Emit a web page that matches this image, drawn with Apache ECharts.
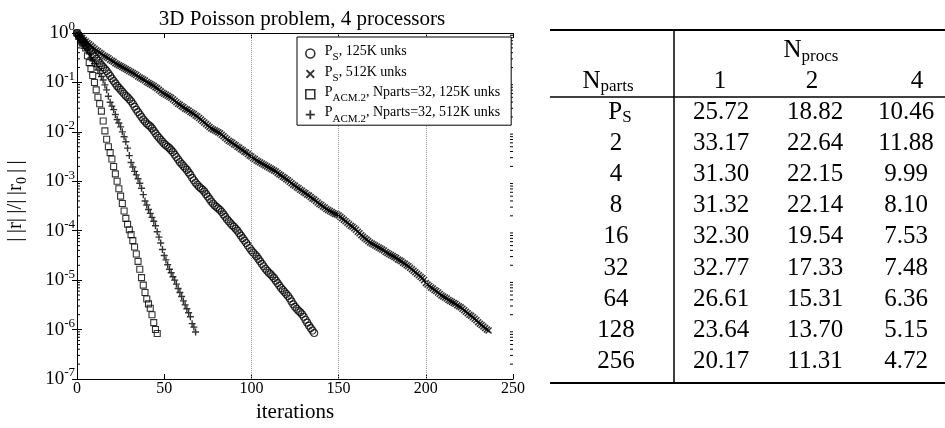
<!DOCTYPE html>
<html>
<head>
<meta charset="utf-8">
<title>3D Poisson problem, 4 processors</title>
<script src="https://cdn.jsdelivr.net/npm/echarts@6/dist/echarts.min.js"></script>
<style>
  html, body { margin: 0; padding: 0; background: #fff; }
  #chart { width: 945px; height: 428px; }
</style>
</head>
<body>
<div id="chart"></div>
<script>
const FONT = 'Liberation Serif';

// log10(||r||/||r0||) per iteration (index = iteration)
const psSmall = [
  0, -0.05, -0.10, -0.15, -0.19, -0.24, -0.29, -0.34, -0.38, -0.43,
  -0.47, -0.52, -0.56, -0.61, -0.65, -0.69, -0.73, -0.77, -0.82, -0.87,
  -0.92, -0.97, -1.02, -1.07, -1.11, -1.15, -1.19, -1.23, -1.27, -1.30,
  -1.34, -1.38, -1.43, -1.49, -1.55, -1.60, -1.65, -1.70, -1.75, -1.79,
  -1.83, -1.86, -1.89, -1.93, -1.98, -2.03, -2.08, -2.12, -2.16, -2.20,
  -2.24, -2.27, -2.30, -2.33, -2.37, -2.41, -2.46, -2.51, -2.56, -2.61,
  -2.65, -2.69, -2.73, -2.77, -2.82, -2.87, -2.93, -2.98, -3.03, -3.07,
  -3.11, -3.14, -3.17, -3.21, -3.26, -3.31, -3.36, -3.41, -3.45, -3.49,
  -3.52, -3.55, -3.58, -3.62, -3.67, -3.72, -3.77, -3.81, -3.85, -3.89,
  -3.92, -3.96, -4.00, -4.05, -4.10, -4.15, -4.20, -4.25, -4.30, -4.35,
  -4.40, -4.44, -4.48, -4.52, -4.57, -4.62, -4.67, -4.72, -4.77, -4.81,
  -4.85, -4.88, -4.92, -4.96, -5.01, -5.06, -5.11, -5.16, -5.20, -5.24,
  -5.28, -5.32, -5.37, -5.43, -5.49, -5.54, -5.58, -5.62, -5.65, -5.69,
  -5.74, -5.80, -5.86, -5.92, -5.97, -6.02, -6.07
];
const psLarge = [
  0, -0.04, -0.07, -0.10, -0.14, -0.17, -0.20, -0.23, -0.26, -0.29,
  -0.32, -0.35, -0.37, -0.40, -0.42, -0.45, -0.47, -0.49, -0.51, -0.54,
  -0.56, -0.58, -0.61, -0.63, -0.65, -0.67, -0.69, -0.71, -0.73, -0.75,
  -0.77, -0.79, -0.81, -0.83, -0.85, -0.88, -0.90, -0.92, -0.94, -0.96,
  -0.99, -1.01, -1.03, -1.05, -1.07, -1.10, -1.12, -1.15, -1.18, -1.21,
  -1.23, -1.25, -1.27, -1.29, -1.31, -1.34, -1.37, -1.40, -1.43, -1.45,
  -1.48, -1.50, -1.53, -1.55, -1.57, -1.60, -1.62, -1.64, -1.67, -1.69,
  -1.72, -1.75, -1.78, -1.81, -1.84, -1.87, -1.90, -1.93, -1.95, -1.97,
  -1.99, -2.01, -2.03, -2.06, -2.09, -2.12, -2.15, -2.18, -2.20, -2.22,
  -2.25, -2.27, -2.30, -2.32, -2.35, -2.37, -2.40, -2.42, -2.45, -2.48,
  -2.50, -2.53, -2.55, -2.58, -2.60, -2.62, -2.64, -2.66, -2.68, -2.70,
  -2.72, -2.74, -2.76, -2.78, -2.80, -2.83, -2.86, -2.88, -2.91, -2.93,
  -2.96, -2.98, -3.01, -3.04, -3.07, -3.09, -3.12, -3.14, -3.17, -3.19,
  -3.22, -3.24, -3.27, -3.29, -3.32, -3.35, -3.37, -3.40, -3.43, -3.46,
  -3.48, -3.51, -3.53, -3.56, -3.58, -3.60, -3.62, -3.64, -3.66, -3.67,
  -3.69, -3.72, -3.75, -3.78, -3.81, -3.84, -3.87, -3.90, -3.92, -3.95,
  -3.98, -4.02, -4.05, -4.09, -4.12, -4.15, -4.18, -4.21, -4.24, -4.26,
  -4.28, -4.30, -4.32, -4.34, -4.36, -4.38, -4.40, -4.43, -4.45, -4.47,
  -4.49, -4.51, -4.53, -4.55, -4.58, -4.60, -4.62, -4.65, -4.67, -4.70,
  -4.72, -4.75, -4.78, -4.81, -4.84, -4.87, -4.90, -4.93, -4.96, -5.00,
  -5.06, -5.09, -5.12, -5.15, -5.17, -5.20, -5.22, -5.25, -5.28, -5.31,
  -5.33, -5.35, -5.37, -5.40, -5.42, -5.44, -5.46, -5.48, -5.51, -5.53,
  -5.55, -5.58, -5.61, -5.64, -5.67, -5.70, -5.72, -5.75, -5.78, -5.81,
  -5.85, -5.88, -5.91, -5.94, -5.97, -6.00, -6.02
];
const acmSmall = [
  0, -0.07, -0.13, -0.20, -0.25, -0.30, -0.46, -0.60, -0.72, -0.86,
  -1.00, -1.15, -1.30, -1.43, -1.58, -1.78, -1.98, -2.15, -2.30, -2.42,
  -2.55, -2.70, -2.85, -3.00, -3.15, -3.30, -3.45, -3.60, -3.75, -3.87,
  -3.98, -4.08, -4.20, -4.33, -4.47, -4.62, -4.78, -4.95, -5.10, -5.25,
  -5.38, -5.48, -5.57, -5.70, -5.86, -6.00, -6.08
];
const acmLarge = [
  0, -0.06, -0.12, -0.17, -0.22, -0.28, -0.34, -0.42, -0.50, -0.56,
  -0.62, -0.68, -0.75, -0.82, -0.88, -0.95, -1.05, -1.15, -1.28, -1.40,
  -1.48, -1.55, -1.65, -1.75, -1.82, -1.90, -2.00, -2.10, -2.20, -2.33,
  -2.48, -2.62, -2.71, -2.80, -2.87, -2.95, -3.04, -3.14, -3.27, -3.40,
  -3.48, -3.57, -3.65, -3.73, -3.81, -3.90, -4.02, -4.13, -4.25, -4.38,
  -4.50, -4.59, -4.69, -4.78, -4.85, -4.93, -5.00, -5.08, -5.17, -5.25,
  -5.33, -5.42, -5.50, -5.58, -5.66, -5.74, -5.88, -5.95, -6.05
];

// dotted grid lines that show in the plot
const gridIters = [100, 150, 200];

// table on the right
const partLabels = ['P_S', '2', '4', '8', '16', '32', '64', '128', '256'];
const procLabels = ['1', '2', '4'];
const timeP1 = [25.72, 33.17, 31.30, 31.32, 32.30, 32.77, 26.61, 23.64, 20.17];
const timeP2 = [18.82, 22.64, 22.15, 22.14, 19.54, 17.33, 15.31, 13.70, 11.31];
const timeP4 = [10.46, 11.88, 9.99, 8.10, 7.53, 7.48, 6.36, 5.15, 4.72];

// minor ticks of the log axis (2..9 x 10^k)
const minorTicks = [];
for (let k = -7; k < 0; k++) {
  for (let m = 2; m <= 9; m++) minorTicks.push(m * Math.pow(10, k));
}

const toPoints = exps => exps.map((e, i) => [i, Math.pow(10, e)]);

const PLUS = 'path://M4,0H6V4H10V6H6V10H4V6H0V4H4Z';
const CROSS = 'path://M1.5,0L5,3.5L8.5,0L10,1.5L6.5,5L10,8.5L8.5,10L5,6.5L1.5,10L0,8.5L3.5,5L0,1.5Z';
const hollow = { color: 'rgba(0,0,0,0)', borderColor: '#000', borderWidth: 1.1 };
const solid = { color: '#000', borderWidth: 0 };

const legendText = {
  ps125: '{p|P}{sub|S}{t|, 125K unks}',
  ps512: '{p|P}{sub|S}{t|, 512K unks}',
  acm125: '{p|P}{sub|ACM.2}{t|, Nparts=32, 125K unks}',
  acm512: '{p|P}{sub|ACM.2}{t|, Nparts=32, 512K unks}'
};

// ---- table drawn with graphic elements ----
const colX = [616, 721, 815, 906];
const headX = [720, 812, 917];
const rowY0 = 112, rowStep = 31.2;
const tblRich = {
  n: { fontSize: 25, fontFamily: FONT, fill: '#000', lineHeight: 26, padding: [0, 0, 4, 0], verticalAlign: 'middle' },
  s: { fontSize: 17, fontFamily: FONT, fill: '#000', lineHeight: 18, padding: [8, 0, 0, 0], verticalAlign: 'middle' }
};
function rule(x1, y1, x2, y2, w) {
  return { type: 'line', z: 20, shape: { x1, y1, x2, y2 }, style: { stroke: '#000', lineWidth: w } };
}
function cell(x, y, text, rich) {
  return {
    type: 'text', z: 20, x: x, y: y,
    style: {
      text: text, rich: rich ? tblRich : undefined,
      fontFamily: FONT, fontSize: 25, fill: '#000',
      align: 'center', textAlign: 'center', verticalAlign: 'middle', textVerticalAlign: 'middle'
    }
  };
}
const table = [
  rule(550, 30, 945, 30, 2),
  rule(550, 97, 945, 97, 1.5),
  rule(550, 383, 945, 383, 2),
  rule(674, 30, 674, 383, 1.5),
  cell(811, 52.7, '{n|N}{s|procs}', true),
  cell(608, 83, '{n|N}{s|parts}', true)
];
procLabels.forEach((p, j) => table.push(cell(headX[j], 81, p)));
partLabels.forEach((p, i) => {
  const y = rowY0 + i * rowStep;
  if (p === 'P_S') table.push(cell(colX[0] + 4, y + 2, '{n|P}{s|S}', true));
  else table.push(cell(colX[0], y, p));
  [timeP1, timeP2, timeP4].forEach((col, j) => table.push(cell(colX[j + 1], y, col[i].toFixed(2))));
});

const TS = '\u2009';
const chart = echarts.init(document.getElementById('chart'));
const option = {
  animation: false,
  backgroundColor: '#fff',
  title: {
    text: '3D Poisson problem, 4 processors',
    left: 297, top: 4, textAlign: 'center',
    textStyle: { fontFamily: FONT, fontSize: 21, fontWeight: 'normal', color: '#000' }
  },
  grid: { left: 77, top: 33, right: 432, bottom: 49, containLabel: false, outerBoundsMode: 'none' },
  legend: {
    orient: 'vertical',
    left: 297, top: 37,
    padding: [7, 11, 1, 8],
    itemGap: 1.4,
    itemWidth: 9, itemHeight: 9,
    selectedMode: false,
    backgroundColor: '#fff',
    borderColor: '#000', borderWidth: 1,
    z: 10,
    data: [
      { name: 'ps125', icon: 'circle', itemStyle: { color: 'rgba(0,0,0,0)', borderColor: '#000', borderWidth: 1.6 } },
      { name: 'ps512', icon: CROSS, itemStyle: { color: '#000', borderWidth: 0 } },
      { name: 'acm125', icon: 'rect', itemStyle: { color: 'rgba(0,0,0,0)', borderColor: '#000', borderWidth: 1.6 } },
      { name: 'acm512', icon: PLUS, itemStyle: { color: '#000', borderWidth: 0 } }
    ],
    formatter: name => legendText[name],
    textStyle: {
      color: '#000', fontFamily: FONT, fontSize: 14,
      rich: {
        p: { fontSize: 14, fontFamily: FONT, color: '#000', lineHeight: 14, padding: [0, 0, 4, 5], verticalAlign: 'middle' },
        sub: { fontSize: 11, fontFamily: FONT, color: '#000', lineHeight: 10, padding: [8, 0, 0, 0], verticalAlign: 'middle' },
        t: { fontSize: 14, fontFamily: FONT, color: '#000', lineHeight: 14, padding: [0, 0, 4, 0], verticalAlign: 'middle' }
      }
    }
  },
  xAxis: [{
    type: 'value', min: 0, max: 250, interval: 50,
    name: 'iterations', nameLocation: 'middle', nameGap: 14,
    nameTextStyle: { fontFamily: FONT, fontSize: 21, color: '#000' },
    axisLine: { show: true, lineStyle: { color: '#000', width: 1 } },
    axisTick: { show: true, inside: true, length: 5, lineStyle: { color: '#000' } },
    axisLabel: { margin: 2, fontFamily: FONT, fontSize: 16, color: '#000' },
    splitLine: { show: false }
  }, {
    type: 'value', min: 0, max: 250, interval: 50, position: 'top',
    axisLine: { show: true, lineStyle: { color: '#000', width: 1 } },
    axisTick: { show: true, inside: true, length: 5, lineStyle: { color: '#000' } },
    axisLabel: { show: false },
    splitLine: { show: false }
  }],
  yAxis: [{
    type: 'log', logBase: 10, min: 1e-7, max: 1,
    name: '{a||' + TS + '|r|' + TS + '|/|' + TS + '|r}{s|0}{b|' + TS + '|' + TS + '|}',
    nameLocation: 'middle', nameGap: 49, nameRotate: 90,
    nameTextStyle: {
      color: '#000', fontFamily: FONT, fontSize: 21,
      rich: {
        a: { fontFamily: FONT, fontSize: 21, color: '#000', lineHeight: 21, padding: [0, 0, 4, 10], verticalAlign: 'middle' },
        b: { fontFamily: FONT, fontSize: 21, color: '#000', lineHeight: 21, padding: [0, 0, 4, 0], verticalAlign: 'middle' },
        s: { fontFamily: FONT, fontSize: 14, color: '#000', lineHeight: 14, padding: [9, 0, 0, 0], verticalAlign: 'middle' }
      }
    },
    axisLine: { show: true, lineStyle: { color: '#000', width: 1 } },
    axisTick: { show: true, inside: true, length: 5, lineStyle: { color: '#000' } },
    axisLabel: {
      margin: 2,
      formatter: v => '{b|10}{e|' + Math.round(Math.log10(v)) + '}',
      rich: {
        b: { fontFamily: FONT, fontSize: 19, color: '#000', lineHeight: 18, padding: [3, 0, 3, 0], verticalAlign: 'middle' },
        e: { fontFamily: FONT, fontSize: 13, color: '#000', lineHeight: 12, padding: [0, 0, 12, 0], verticalAlign: 'middle' }
      }
    },
    splitLine: { show: false }
  }, {
    type: 'log', logBase: 10, min: 1e-7, max: 1, position: 'right',
    axisLine: { show: true, lineStyle: { color: '#000', width: 1 } },
    axisTick: { show: true, inside: true, length: 5, lineStyle: { color: '#000' } },
    axisLabel: { show: false },
    splitLine: { show: false }
  }],
  series: [
    {
      name: 'ps125', type: 'scatter', symbol: 'circle', symbolSize: 7,
      itemStyle: hollow, emphasis: { disabled: true },
      data: toPoints(psSmall)
    },
    {
      name: 'ps512', type: 'scatter', symbol: CROSS, symbolSize: 7,
      itemStyle: solid, emphasis: { disabled: true },
      data: toPoints(psLarge)
    },
    {
      name: 'acm125', type: 'scatter', symbol: 'rect', symbolSize: 6,
      itemStyle: hollow, emphasis: { disabled: true },
      data: toPoints(acmSmall)
    },
    {
      name: 'acm512', type: 'scatter', symbol: PLUS, symbolSize: 7,
      itemStyle: solid, emphasis: { disabled: true },
      data: toPoints(acmLarge)
    },
    {
      // log minor ticks on left and right frame, plus the dotted grid lines
      name: 'minor', type: 'custom', silent: true, z: 1,
      data: minorTicks.map(v => [0, v]),
      renderItem: (params, api) => {
        const v = api.value(1);
        const l = api.coord([0, v]);
        const r = api.coord([250, v]);
        return {
          type: 'group',
          children: [
            { type: 'line', shape: { x1: l[0], y1: l[1], x2: l[0] + 3, y2: l[1] }, style: { stroke: '#000', lineWidth: 1 } },
            { type: 'line', shape: { x1: r[0] - 3, y1: r[1], x2: r[0], y2: r[1] }, style: { stroke: '#000', lineWidth: 1 } }
          ]
        };
      },
      markLine: {
        silent: true, symbol: 'none', label: { show: false },
        lineStyle: { color: '#999', type: 'dotted', width: 1 },
        data: gridIters.map(x => ({ xAxis: x }))
      }
    }
  ],
  graphic: table
};
chart.setOption(option);
</script>
</body>
</html>
